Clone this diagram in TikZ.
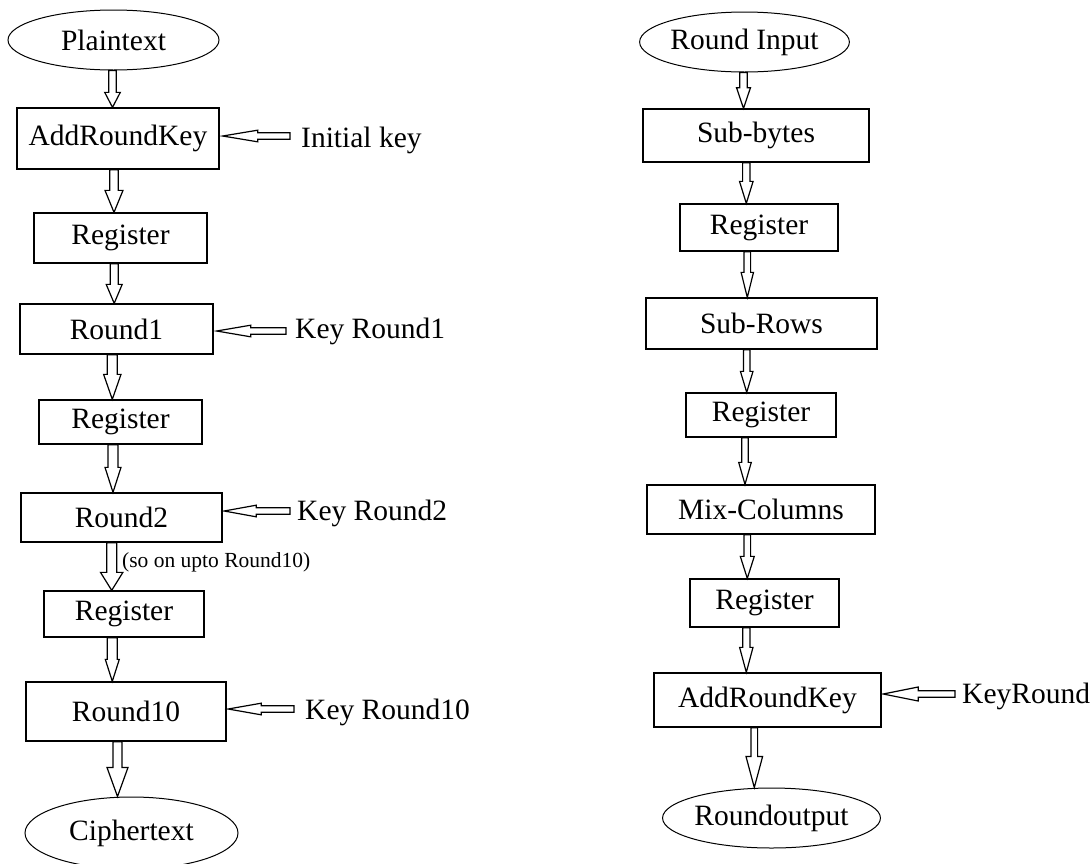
\documentclass[tikz,border=0pt]{standalone}
\usepackage{fontspec}
\setmainfont{Liberation Serif}
\usetikzlibrary{shapes.geometric,calc}
\tikzset{
  box/.style={draw, line width=1.3pt, rectangle, inner sep=0pt},
  oval/.style={draw, line width=1pt, ellipse, inner sep=0pt},
  lbl/.style={inner sep=0pt, anchor=base west},
  arr/.style={draw, line width=1.2pt, fill=white, line join=miter}
}
% vertical block arrow: start coord (x,y), end coord (y used), shaft half w, head half h, head length L
\newcommand\vbarrow[5]{%
  \draw[arr] let \p1=#1, \p2=#2 in
    (\x1-#3pt,\y1) -- (\x1-#3pt,\y2+#5pt) -- (\x1-#4pt,\y2+#5pt) -- (\x1,\y2)
    -- (\x1+#4pt,\y2+#5pt) -- (\x1+#3pt,\y2+#5pt) -- (\x1+#3pt,\y1) -- cycle;}
% horizontal block arrow pointing left: free end (x,y), tip coord (x used)
\newcommand\hbarrow[5]{%
  \draw[arr] let \p1=#1, \p2=#2 in
    (\x1,\y1+#3pt) -- (\x2+#5pt,\y1+#3pt) -- (\x2+#5pt,\y1+#4pt) -- (\x2,\y1)
    -- (\x2+#5pt,\y1-#4pt) -- (\x2+#5pt,\y1-#3pt) -- (\x1,\y1-#3pt) -- cycle;}
\begin{document}
\begin{tikzpicture}[x=1pt,y=-1pt,font=\fontsize{29.5}{32}\selectfont]
\useasboundingbox (0,0) rectangle (1092,863);
\clip (0,0) rectangle (1092,863);

% ---------------- left column ----------------
\node[oval, minimum width=211pt, minimum height=60pt] (pt) at (113.5,40) {Plaintext};
\node[box, minimum width=202pt, minimum height=61pt] (ark) at (118,138.5) {AddRoundKey};
\node[box, minimum width=173pt, minimum height=50pt] (reg1) at (120.5,238) {Register};
\node[box, minimum width=193pt, minimum height=50pt] (r1) at (116.5,329) {Round1};
\node[box, minimum width=163pt, minimum height=44pt] (reg2) at (120.5,422) {Register};
\node[box, minimum width=201pt, minimum height=49pt] (r2) at (121.5,517.5) {Round2};
\node[box, minimum width=160pt, minimum height=46pt] (reg3) at (124,614) {Register};
\node[box, minimum width=200pt, minimum height=59pt] (r10) at (126,711.5) {Round10};
\node[oval, minimum width=213pt, minimum height=72pt] (ct) at (131.5,833) {Ciphertext};

\node[lbl] (tik) at (301,147) {Initial key};
\node[lbl] (tk1) at (295,338) {Key Round1};
\node[lbl] (tk2) at (297,520) {Key Round2};
\node[lbl] (tk10) at (305,719) {Key Round10};
\node[lbl, font=\fontsize{21.5}{24}\selectfont] (sonote) at (122,567) {(so on upto Round10)};

\coordinate (kik) at (290,136);
\coordinate (kk1) at (286,331);
\coordinate (kk2) at (290,511);
\coordinate (kk10) at (294,709);

\vbarrow{([xshift=-1pt]pt.south)}{(ark.north)}{3.8}{7.8}{15}
\vbarrow{([xshift=-4pt]ark.south)}{(reg1.north)}{4.2}{9}{22}
\vbarrow{([xshift=-6.3pt]reg1.south)}{(r1.north)}{4}{8}{19}
\vbarrow{([xshift=-4.2pt]r1.south)}{(reg2.north)}{5}{8.7}{25}
\vbarrow{([xshift=-7.5pt]reg2.south)}{(r2.north)}{5}{8}{25}
\vbarrow{([xshift=-9.8pt]r2.south)}{(reg3.north)}{5}{11.2}{18}
\vbarrow{([xshift=-11.7pt]reg3.south)}{(r10.north)}{5}{7}{22}
\vbarrow{([xshift=-8.5pt]r10.south)}{(ct.north)}{4.5}{10.5}{29}

\hbarrow{(kik)}{([xshift=3pt]ark.east)}{3.3}{5.8}{35}
\hbarrow{(kk1)}{([xshift=3pt]r1.east)}{3.3}{5.8}{34}
\hbarrow{(kk2)}{([xshift=1.5pt]r2.east)}{3.3}{5.8}{32}
\hbarrow{(kk10)}{([xshift=1.5pt]r10.east)}{3.3}{5.8}{33}

% ---------------- right column ----------------
\node[oval, minimum width=197pt, minimum height=60pt] (ri) at (744.5,42) {Round Input};
\node[box, minimum width=226pt, minimum height=53pt] (sb) at (756,135.5) {Sub-bytes};
\node[box, minimum width=158pt, minimum height=47pt] (rg1) at (759,227.5) {Register};
\node[box, minimum width=231pt, minimum height=51pt] (sr) at (761.5,323.5) {Sub-Rows};
\node[box, minimum width=150pt, minimum height=44pt] (rg2) at (761,415) {Register};
\node[box, minimum width=228pt, minimum height=49pt] (mc) at (761,509.5) {Mix-Columns};
\node[box, minimum width=149pt, minimum height=48pt] (rg3) at (764.5,603) {Register};
\node[box, minimum width=227pt, minimum height=54pt] (ark2) at (767.5,700) {AddRoundKey};
\node[oval, minimum width=187pt, minimum height=60pt] (ro) at (771.5,818) {Roundoutput};

\node[lbl] (tkr) at (962,703) {KeyRound};
\coordinate (kkr) at (955,694);

\vbarrow{([xshift=-1pt]ri.south)}{(sb.north)}{3.8}{7}{20.7}
\vbarrow{([xshift=-9.7pt]sb.south)}{(rg1.north)}{3.7}{6.8}{22}
\vbarrow{([xshift=-11.7pt]rg1.south)}{(sr.north)}{3.3}{6.2}{25}
\vbarrow{([xshift=-14.8pt]sr.south)}{(rg2.north)}{3.3}{6.3}{21}
\vbarrow{([xshift=-16pt]rg2.south)}{(mc.north)}{3.3}{6.3}{22}
\vbarrow{([xshift=-13.7pt]mc.south)}{(rg3.north)}{3.3}{7}{22}
\vbarrow{([xshift=-18.2pt]rg3.south)}{(ark2.north)}{3.6}{6.7}{25}
\vbarrow{([xshift=-13.2pt]ark2.south)}{(ro.north)}{3.3}{8.3}{31}

\hbarrow{(kkr)}{([xshift=1.5pt]ark2.east)}{3.3}{7}{35}
\end{tikzpicture}
\end{document}
